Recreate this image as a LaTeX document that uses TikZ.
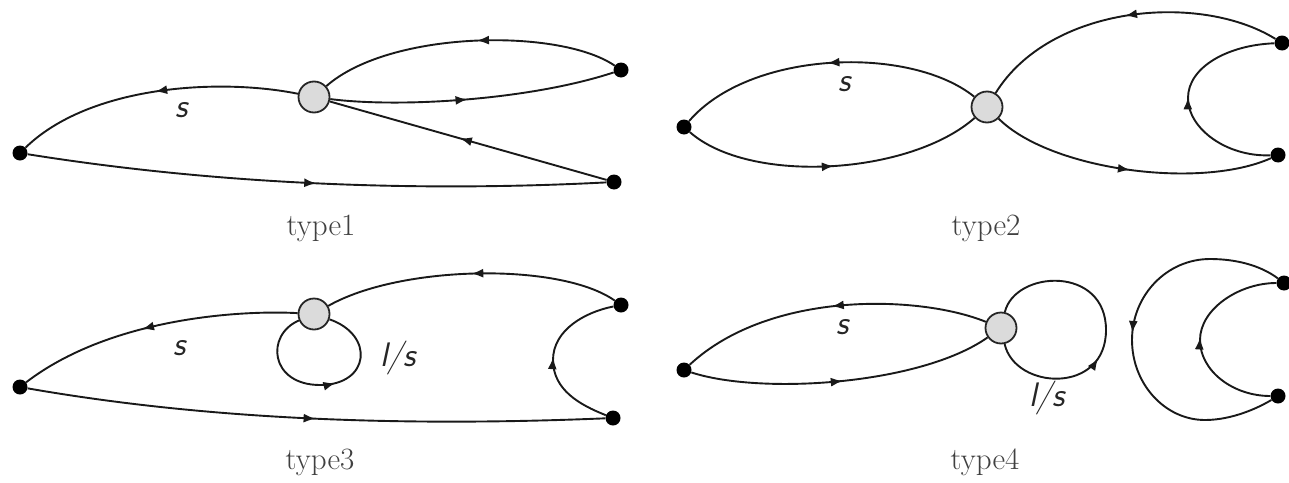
\documentclass[tikz,border=0pt]{standalone}
\usetikzlibrary{arrows.meta,decorations.markings}
\begin{document}
\begin{tikzpicture}[x=1pt,y=-1pt,
  dotnode/.style={circle,fill=black,inner sep=0pt,minimum size=15pt},
  hubnode/.style={circle,draw=black!85,line width=1.8pt,fill=black!14,inner sep=0pt,minimum size=31pt},
  edge/.style={line width=1.9pt,black!90},
  arrowat/.style={postaction={decorate,decoration={markings,mark=at position #1 with {\arrow{Latex[length=12pt,width=9pt]}}}}},
  caption/.style={font=\fontsize{31}{36}\selectfont,text=black!75,inner sep=0pt},
  lab/.style={font=\fontsize{34}{40}\selectfont\sffamily\slshape,text=black!85,inner sep=0pt}]
\useasboundingbox (0,0) rectangle (1289,482);
% ---------- type1 ----------
\node[dotnode] (L1) at (20,153) {};
\node[hubnode] (C1) at (314,97) {};
\node[dotnode] (TR1) at (621,70) {};
\node[dotnode] (BR1) at (614,182) {};
\draw[edge,arrowat=0.5] (C1) .. controls (220,78) and (90,85) .. (L1);
\draw[edge,arrowat=0.5] (L1) .. controls (220,185) and (420,192) .. (BR1);
\draw[edge,arrowat=0.47] (TR1) .. controls (560,28) and (390,30) .. (C1);
\draw[edge,arrowat=0.48] (C1) .. controls (400,108) and (530,100) .. (TR1);
\draw[edge,arrowat=0.53] (BR1) -- (C1);
\node[lab] (s1) at (182,110) {s};
\node[caption] (t1) at (321,228) {type1};
% ---------- type2 ----------
\node[dotnode] (L2) at (684,127) {};
\node[hubnode] (C2) at (987,107) {};
\node[dotnode] (TR2) at (1282,43) {};
\node[dotnode] (BR2) at (1278,155) {};
\draw[edge,arrowat=0.5] (C2) .. controls (910,45) and (750,50) .. (L2);
\draw[edge,arrowat=0.5] (L2) .. controls (750,185) and (910,175) .. (C2);
\draw[edge,arrowat=0.5] (TR2) .. controls (1200,-8) and (1050,5) .. (C2);
\draw[edge,arrowat=0.5] (C2) .. controls (1050,170) and (1200,190) .. (BR2);
\draw[edge,arrowat=0.5] (BR2) .. controls (1227,157) and (1188,129) .. (1188,98) .. controls (1188,67) and (1228,45) .. (TR2);
\node[lab] (s2) at (845,84) {s};
\node[caption] (t2) at (986,228) {type2};
% ---------- type3 ----------
\node[dotnode] (L3) at (20,387) {};
\node[hubnode] (C3) at (314,314) {};
\node[dotnode] (TR3) at (621,305) {};
\node[dotnode] (BR3) at (613,418) {};
\draw[edge,arrowat=0.55] (C3) .. controls (240,310) and (110,318) .. (L3);
\draw[edge,arrowat=0.5] (L3) .. controls (220,422) and (420,426) .. (BR3);
\draw[edge,arrowat=0.5] (TR3) .. controls (560,262) and (400,265) .. (C3);
\draw[edge,arrowat=0.56] (C3) .. controls (265,335) and (270,385) .. (320,385) .. controls (370,385) and (375,335) .. (C3);
\draw[edge,arrowat=0.5] (BR3) .. controls (580,405) and (553,390) .. (553,360) .. controls (553,330) and (585,312) .. (TR3);
\node[lab] (s3) at (180,348) {s};
\node[lab] (ls3) at (398,358) {l/s};
\node[caption] (t3) at (320,462) {type3};
% ---------- type4 ----------
\node[dotnode] (L4) at (684,370) {};
\node[hubnode] (C4) at (1001,328) {};
\node[dotnode] (TR4) at (1284,283) {};
\node[dotnode] (BR4) at (1278,396) {};
\draw[edge,arrowat=0.5] (C4) .. controls (920,295) and (770,290) .. (L4);
\draw[edge,arrowat=0.5] (L4) .. controls (760,395) and (920,385) .. (C4);
\draw[edge,arrowat=0.4] (C4) .. controls (1015,390) and (1106,395) .. (1106,330) .. controls (1106,265) and (1015,270) .. (C4);
\draw[edge,arrowat=0.49] (TR4) .. controls (1260,265) and (1235,259) .. (1210,259) .. controls (1167,259) and (1132,295) .. (1132,340) .. controls (1132,384) and (1165,420) .. (1205,420) .. controls (1232,420) and (1258,408) .. (BR4);
\draw[edge,arrowat=0.5] (BR4) .. controls (1233,396) and (1200,371) .. (1200,340) .. controls (1200,309) and (1239,283) .. (TR4);
\node[lab] (s4) at (843,327) {s};
\node[lab] (ls4) at (1047,398) {l/s};
\node[caption] (t4) at (985,462) {type4};
\end{tikzpicture}
\end{document}
